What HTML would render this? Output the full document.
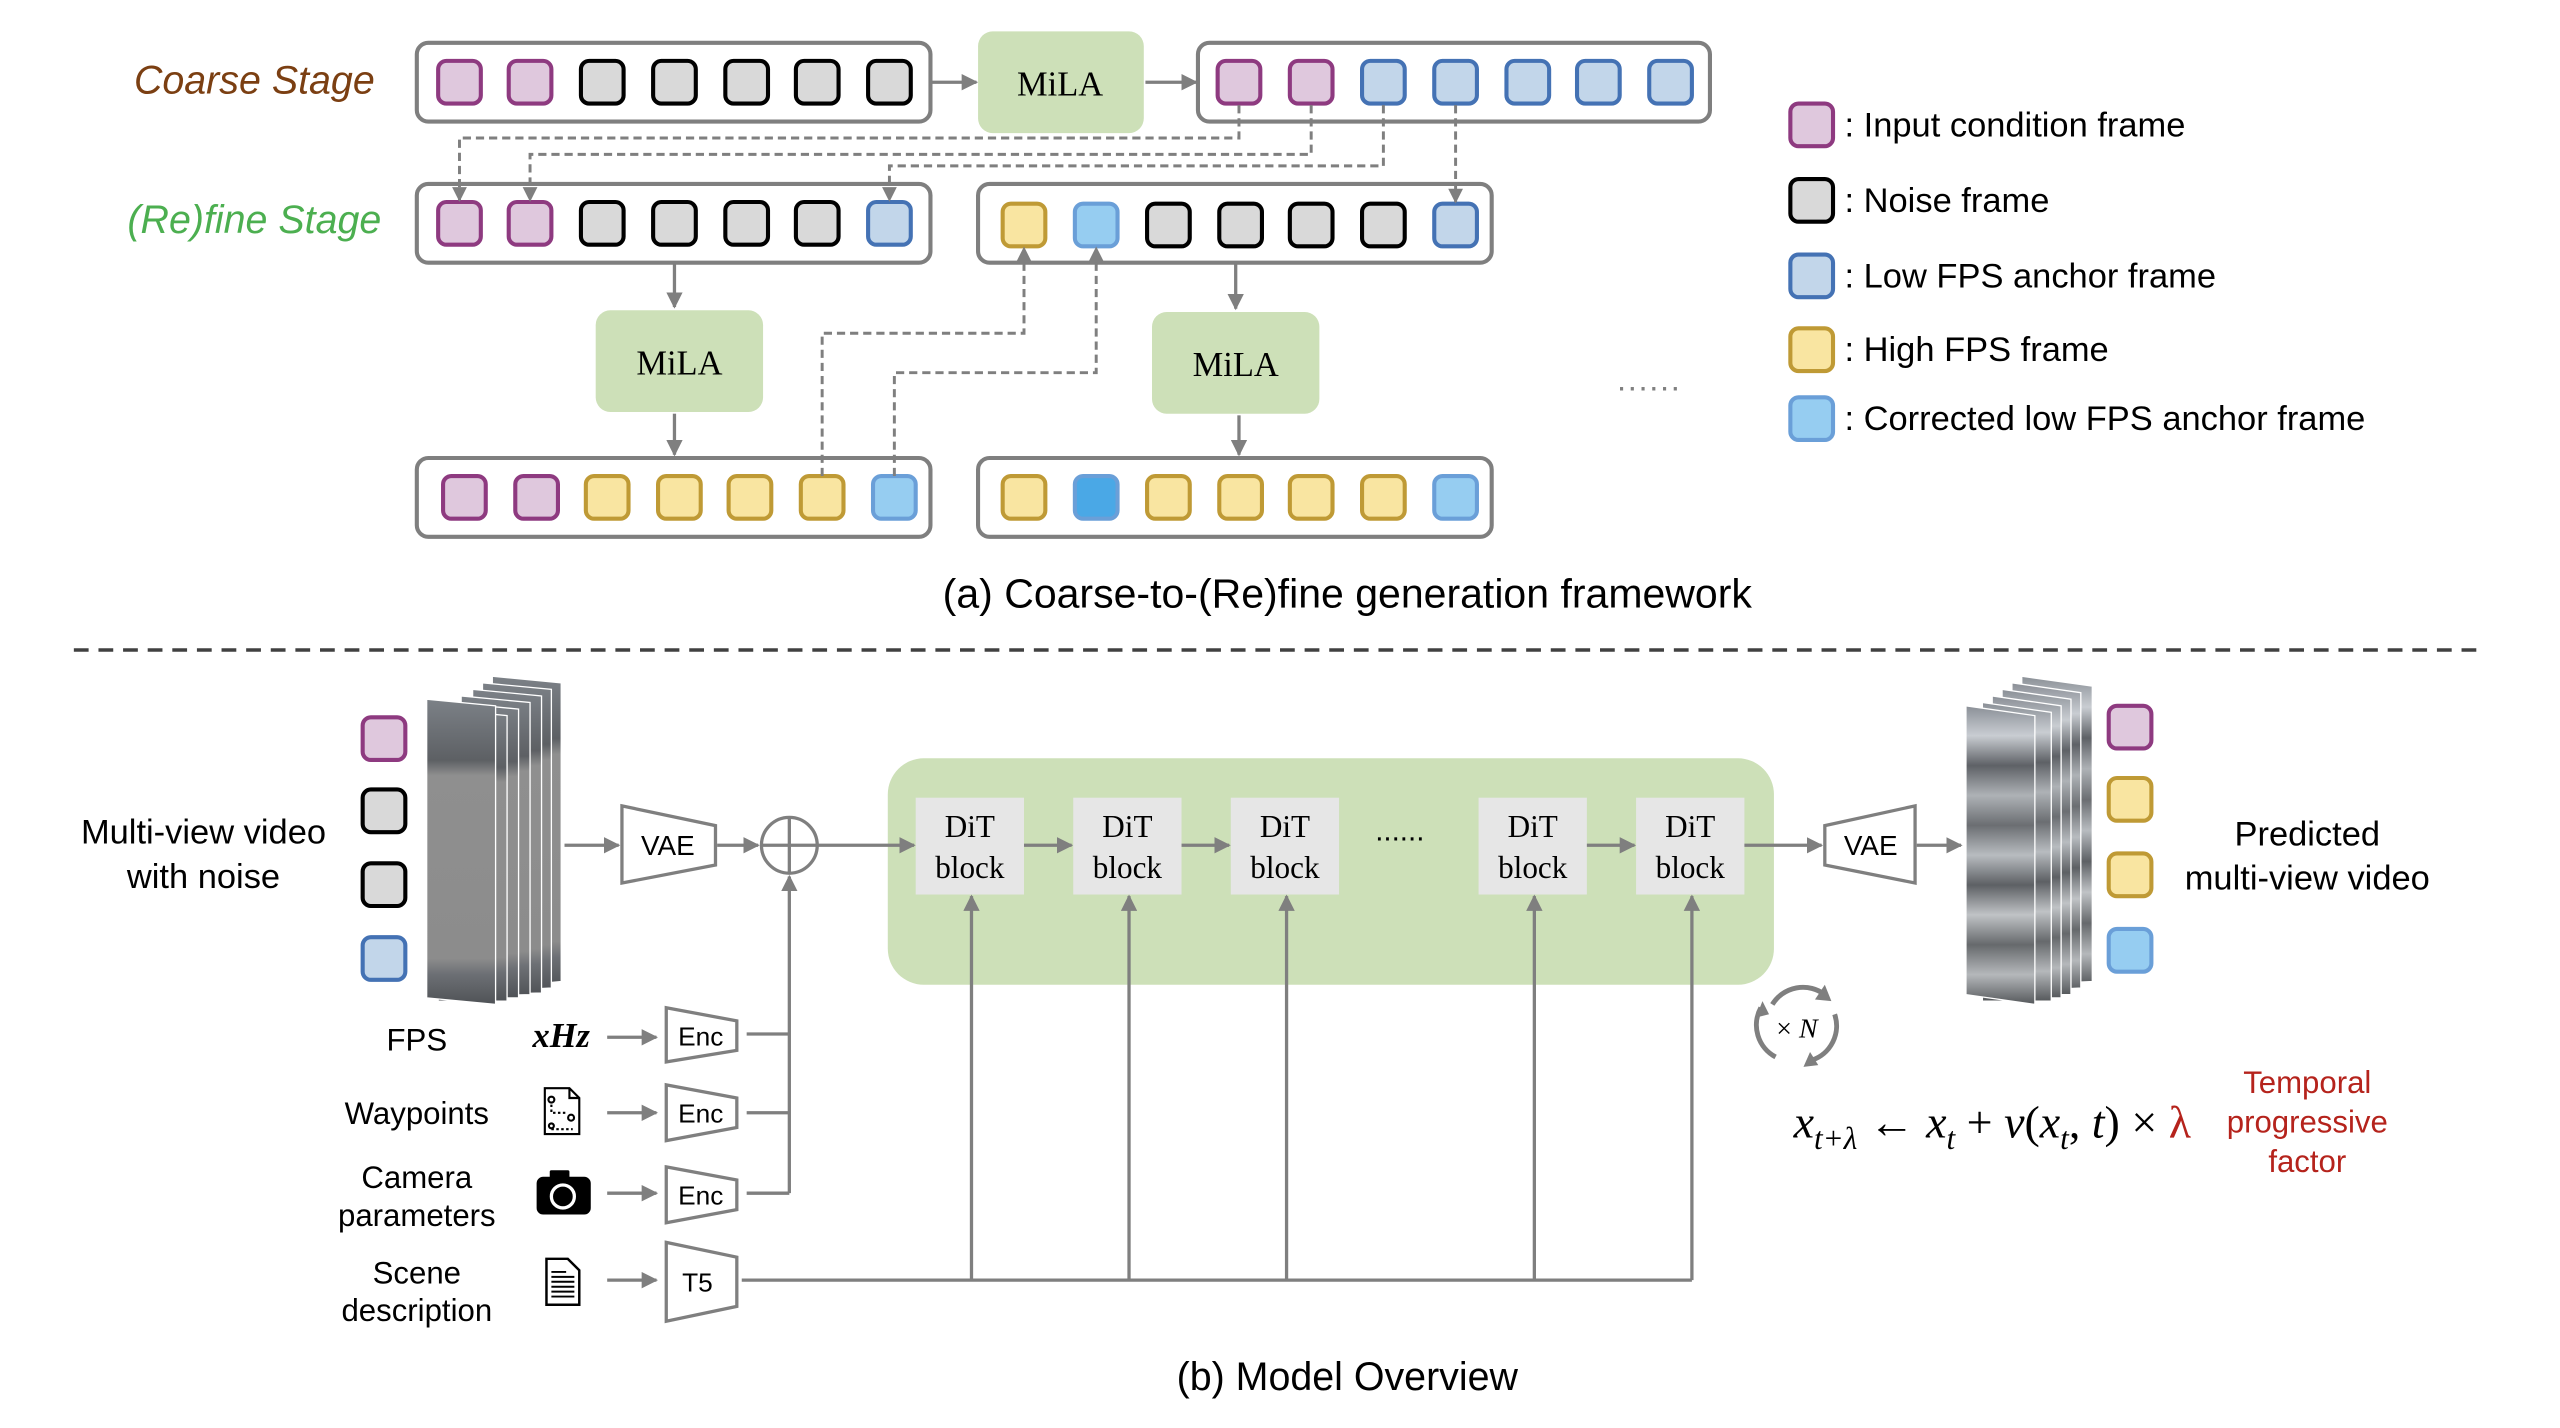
<!DOCTYPE html>
<html><head><meta charset="utf-8"><style>
html,body{margin:0;padding:0;background:#fff;}
svg{display:block;}
text{font-family:"Liberation Sans",sans-serif;}
.s{font-family:"Liberation Serif",serif;}
</style></head><body>
<svg width="2560" height="1428" viewBox="0 0 1560 870" xmlns="http://www.w3.org/2000/svg">
<defs>
<marker id="ah" viewBox="0 0 10 10" refX="9" refY="5" markerWidth="5" markerHeight="5" orient="auto"><path d="M0,0 L10,5 L0,10 z" fill="#7f7f7f"/></marker>
<g id="P"><rect x="-13" y="-13" width="26" height="26" rx="5" fill="#dfc8dd" stroke="#8e3a80" stroke-width="2.5"/></g>
<g id="G"><rect x="-13" y="-13" width="26" height="26" rx="5" fill="#d9d9d9" stroke="#000" stroke-width="2.5"/></g>
<g id="B"><rect x="-13" y="-13" width="26" height="26" rx="5" fill="#c2d6ea" stroke="#4472b4" stroke-width="2.5"/></g>
<g id="Y"><rect x="-13" y="-13" width="26" height="26" rx="5" fill="#f9e5a1" stroke="#bf9a35" stroke-width="2.5"/></g>
<g id="C"><rect x="-13" y="-13" width="26" height="26" rx="5" fill="#96cdf1" stroke="#6a9fd8" stroke-width="2.5"/></g>
<g id="D"><rect x="-13" y="-13" width="26" height="26" rx="5" fill="#4aa8e6" stroke="#6a9fd8" stroke-width="2.5"/></g>
<linearGradient id="vid" x1="0" y1="0" x2="0" y2="1">
<stop offset="0" stop-color="#8a8f96"/><stop offset="0.1" stop-color="#c9cdd2"/><stop offset="0.2" stop-color="#5e6166"/><stop offset="0.3" stop-color="#aeb2b6"/><stop offset="0.4" stop-color="#6b6e72"/><stop offset="0.5" stop-color="#b8bcc0"/><stop offset="0.6" stop-color="#5d6064"/><stop offset="0.7" stop-color="#c0c3c6"/><stop offset="0.8" stop-color="#66696c"/><stop offset="0.9" stop-color="#b5b8bb"/><stop offset="1" stop-color="#55585b"/>
</linearGradient>
<linearGradient id="vidn" x1="0" y1="0" x2="0" y2="1">
<stop offset="0" stop-color="#7c8187"/><stop offset="0.2" stop-color="#5d6064"/><stop offset="0.25" stop-color="#8f8f8f"/><stop offset="0.85" stop-color="#8c8c8c"/><stop offset="0.9" stop-color="#6d7075"/><stop offset="1" stop-color="#4f5256"/>
</linearGradient>
</defs>

<text x="155" y="57" font-size="24" font-style="italic" fill="#7b3f12" text-anchor="middle">Coarse Stage</text>
<text x="155" y="142" font-size="24" font-style="italic" fill="#4caf50" text-anchor="middle">(Re)fine Stage</text>

<g fill="#fff" stroke="#7f7f7f" stroke-width="2.5">
<rect x="254" y="26" width="313" height="48" rx="7"/>
<rect x="730" y="26" width="312" height="48" rx="7"/>
<rect x="254" y="112" width="313" height="48" rx="7"/>
<rect x="596" y="112" width="313" height="48" rx="7"/>
<rect x="254" y="279" width="313" height="48" rx="7"/>
<rect x="596" y="279" width="313" height="48" rx="7"/>
</g>
<g fill="#cde0b8">
<rect x="596" y="19" width="101" height="62" rx="9"/>
<rect x="363" y="189" width="102" height="62" rx="9"/>
<rect x="702" y="190" width="102" height="62" rx="9"/>
</g>
<g font-size="21" text-anchor="middle" fill="#000">
<text x="646" y="58" class="s">MiLA</text>
<text x="414" y="228" class="s">MiLA</text>
<text x="753" y="229" class="s">MiLA</text>
</g>

<use href="#P" x="280" y="50"/><use href="#P" x="323" y="50"/><use href="#G" x="367" y="50"/><use href="#G" x="411" y="50"/><use href="#G" x="455" y="50"/><use href="#G" x="498" y="50"/><use href="#G" x="542" y="50"/>
<use href="#P" x="755" y="50"/><use href="#P" x="799" y="50"/><use href="#B" x="843" y="50"/><use href="#B" x="887" y="50"/><use href="#B" x="931" y="50"/><use href="#B" x="974" y="50"/><use href="#B" x="1018" y="50"/>
<use href="#P" x="280" y="136"/><use href="#P" x="323" y="136"/><use href="#G" x="367" y="136"/><use href="#G" x="411" y="136"/><use href="#G" x="455" y="136"/><use href="#G" x="498" y="136"/><use href="#B" x="542" y="136"/>
<use href="#Y" x="624" y="137"/><use href="#C" x="668" y="137"/><use href="#G" x="712" y="137"/><use href="#G" x="756" y="137"/><use href="#G" x="799" y="137"/><use href="#G" x="843" y="137"/><use href="#B" x="887" y="137"/>
<use href="#P" x="283" y="303"/><use href="#P" x="327" y="303"/><use href="#Y" x="370" y="303"/><use href="#Y" x="414" y="303"/><use href="#Y" x="457" y="303"/><use href="#Y" x="501" y="303"/><use href="#C" x="545" y="303"/>
<use href="#Y" x="624" y="303"/><use href="#D" x="668" y="303"/><use href="#Y" x="712" y="303"/><use href="#Y" x="756" y="303"/><use href="#Y" x="799" y="303"/><use href="#Y" x="843" y="303"/><use href="#C" x="887" y="303"/>

<g stroke="#7f7f7f" stroke-width="2" fill="none" marker-end="url(#ah)">
<line x1="568" y1="50" x2="595" y2="50"/>
<line x1="698" y1="50" x2="729" y2="50"/>
<line x1="411" y1="161" x2="411" y2="187"/>
<line x1="411" y1="252" x2="411" y2="277"/>
<line x1="753" y1="161" x2="753" y2="188"/>
<line x1="755" y1="253" x2="755" y2="277"/>
</g>
<g stroke="#7f7f7f" stroke-width="1.8" fill="none" stroke-dasharray="5,3" marker-end="url(#ah)">
<path d="M755,64 V84 H280 V122"/>
<path d="M799,64 V94 H323 V122"/>
<path d="M843,64 V101 H542 V122"/>
<path d="M887,64 V123"/>
<path d="M501,290 V203 H624 V151"/>
<path d="M545,290 V227 H668 V151"/>
</g>
<text x="1005" y="238" font-size="20" fill="#7f7f7f" text-anchor="middle" letter-spacing="1">......</text>

<use href="#P" x="1104" y="76"/><use href="#G" x="1104" y="122"/><use href="#B" x="1104" y="168"/><use href="#Y" x="1104" y="213"/><use href="#C" x="1104" y="255"/>
<g font-size="21" fill="#000">
<text x="1124" y="83">: Input condition frame</text>
<text x="1124" y="129">: Noise frame</text>
<text x="1124" y="175">: Low FPS anchor frame</text>
<text x="1124" y="220">: High FPS frame</text>
<text x="1124" y="262">: Corrected low FPS anchor frame</text>
</g>
<text x="821" y="370" font-size="25" text-anchor="middle">(a) Coarse-to-(Re)fine generation framework</text>

<line x1="45" y1="396" x2="1515" y2="396" stroke="#404040" stroke-width="2.2" stroke-dasharray="9,6"/>

<text x="124" y="514" font-size="21" text-anchor="middle">Multi-view video</text>
<text x="124" y="541" font-size="21" text-anchor="middle">with noise</text>
<use href="#P" x="234" y="450"/><use href="#G" x="234" y="494"/><use href="#G" x="234" y="539"/><use href="#B" x="234" y="584"/>
<g stroke="#fff" stroke-width="0.8">
<polygon points="300,412 342,416 342,598 300,602" fill="url(#vidn)"/>
<polygon points="294,416 336,420 336,602 294,604" fill="url(#vidn)"/>
<polygon points="288,420 330,424 330,605 288,606" fill="url(#vidn)"/>
<polygon points="281,424 323,428 323,606 281,607" fill="url(#vidn)"/>
<polygon points="274,428 316,432 316,608 274,608" fill="url(#vidn)"/>
<polygon points="267,432 309,436 309,610 267,610" fill="url(#vidn)"/>
<polygon points="260,426 302,430 302,612 260,608" fill="url(#vidn)"/>
</g>
<g fill="#fff" stroke="#7f7f7f" stroke-width="2">
<polygon points="379,491 436,503 436,527 379,538"/>
<polygon points="1112,503 1167,491 1167,538 1112,527"/>
<polygon points="406,614 449,622 449,640 406,647"/>
<polygon points="406,661 449,669 449,687 406,695"/>
<polygon points="406,711 449,719 449,737 406,745"/>
<polygon points="406,757 449,766 449,796 406,805"/>
</g>
<text x="407" y="521" font-size="17" text-anchor="middle">VAE</text>
<text x="1140" y="521" font-size="17" text-anchor="middle">VAE</text>
<text x="427" y="637" font-size="16" text-anchor="middle">Enc</text>
<text x="427" y="684" font-size="16" text-anchor="middle">Enc</text>
<text x="427" y="734" font-size="16" text-anchor="middle">Enc</text>
<text x="425" y="787" font-size="16" text-anchor="middle">T5</text>

<circle cx="481" cy="515" r="17" fill="#fff" stroke="#7f7f7f" stroke-width="2"/>
<line x1="464" y1="515" x2="498" y2="515" stroke="#7f7f7f" stroke-width="2"/>
<line x1="481" y1="498" x2="481" y2="532" stroke="#7f7f7f" stroke-width="2"/>

<rect x="541" y="462" width="540" height="138" rx="22" fill="#cde0b8"/>
<g fill="#e6e6e6">
<rect x="558" y="486" width="66" height="59"/><rect x="654" y="486" width="66" height="59"/><rect x="750" y="486" width="66" height="59"/><rect x="901" y="486" width="66" height="59"/><rect x="997" y="486" width="66" height="59"/>
</g>
<g font-size="19" text-anchor="middle">
<text class="s" x="591" y="510">DiT</text><text class="s" x="591" y="535">block</text>
<text class="s" x="687" y="510">DiT</text><text class="s" x="687" y="535">block</text>
<text class="s" x="783" y="510">DiT</text><text class="s" x="783" y="535">block</text>
<text class="s" x="934" y="510">DiT</text><text class="s" x="934" y="535">block</text>
<text class="s" x="1030" y="510">DiT</text><text class="s" x="1030" y="535">block</text>
</g>
<text x="853" y="512" font-size="18" text-anchor="middle">......</text>

<g stroke="#7f7f7f" stroke-width="2" fill="none" marker-end="url(#ah)">
<line x1="344" y1="515" x2="377" y2="515"/>
<line x1="437" y1="515" x2="462" y2="515"/>
<line x1="498" y1="515" x2="557" y2="515"/>
<line x1="624" y1="515" x2="653" y2="515"/>
<line x1="720" y1="515" x2="749" y2="515"/>
<line x1="967" y1="515" x2="996" y2="515"/>
<line x1="1063" y1="515" x2="1110" y2="515"/>
<line x1="1168" y1="515" x2="1195" y2="515"/>
<line x1="481" y1="727" x2="481" y2="534"/>
<line x1="592" y1="780" x2="592" y2="546"/>
<line x1="688" y1="780" x2="688" y2="546"/>
<line x1="784" y1="780" x2="784" y2="546"/>
<line x1="935" y1="780" x2="935" y2="546"/>
<line x1="1031" y1="780" x2="1031" y2="546"/>
<line x1="370" y1="632" x2="400" y2="632"/>
<line x1="370" y1="678" x2="400" y2="678"/>
<line x1="370" y1="727" x2="400" y2="727"/>
<line x1="370" y1="780" x2="400" y2="780"/>
</g>
<g stroke="#7f7f7f" stroke-width="2" fill="none">
<path d="M455,630 H481 M455,678 H481 M455,727 H481"/>
<line x1="452" y1="780" x2="1031" y2="780"/>
</g>

<g font-size="19" text-anchor="middle">
<text x="254" y="640">FPS</text>
<text x="254" y="685">Waypoints</text>
<text x="254" y="724">Camera</text>
<text x="254" y="747">parameters</text>
<text x="254" y="782">Scene</text>
<text x="254" y="805">description</text>
</g>
<text x="342" y="638" font-size="21" font-style="italic" font-weight="bold" class="s" text-anchor="middle">xHz</text>
<g stroke="#000" stroke-width="1.3" fill="none">
<path d="M332,663 H347 L353,669 V691 H332 Z"/><path d="M347,663 V669 H353"/>
<circle cx="336" cy="670" r="1.8"/><circle cx="348" cy="681" r="1.8"/><circle cx="336" cy="686" r="1.5"/>
<path d="M336,673 V678 H346 M336,688 H349" stroke-dasharray="1.5,1.5"/>
</g>
<rect x="327" y="717" width="33" height="23" rx="4" fill="#000"/>
<rect x="335" y="713" width="12" height="6" rx="1" fill="#000"/>
<circle cx="343" cy="729" r="7" fill="#000" stroke="#fff" stroke-width="2"/>
<g stroke="#000" stroke-width="1.5" fill="#fff">
<path d="M333,767 H346 L353,774 V795 H333 Z"/>
</g>
<g stroke="#000" stroke-width="1.2"><path d="M336,778 H350 M336,781 H350 M336,784 H350 M336,787 H350 M336,790 H350 M336,775 H345"/></g>

<g stroke="#fff" stroke-width="0.8">
<polygon points="1232,412 1275,418 1275,598 1232,600" fill="url(#vid)"/>
<polygon points="1226,416 1268,422 1268,602 1226,604" fill="url(#vid)"/>
<polygon points="1220,420 1262,426 1262,606 1220,606" fill="url(#vid)"/>
<polygon points="1214,424 1256,430 1256,608 1214,608" fill="url(#vid)"/>
<polygon points="1208,428 1250,434 1250,610 1208,610" fill="url(#vid)"/>
<polygon points="1198,430 1240,436 1240,612 1198,606" fill="url(#vid)"/>
</g>
<use href="#P" x="1298" y="443"/><use href="#Y" x="1298" y="487"/><use href="#Y" x="1298" y="533"/><use href="#C" x="1298" y="579"/>
<text x="1406" y="515" font-size="21" text-anchor="middle">Predicted</text>
<text x="1406" y="542" font-size="21" text-anchor="middle">multi-view video</text>

<g stroke="#7f7f7f" stroke-width="3" fill="none">
<path d="M1080,612 A22,22 0 0 1 1112,606"/>
<path d="M1118,618 A22,22 0 0 1 1104,646"/>
<path d="M1082,644 A22,22 0 0 1 1073,614"/>
</g>
<g fill="#7f7f7f">
<path d="M1112,600 L1116,610 L1106,609 Z"/>
<path d="M1099,650 L1103,641 L1108,649 Z"/>
<path d="M1070,620 L1074,610 L1078,618 Z"/>
</g>
<text x="1095" y="632" font-size="17" text-anchor="middle" class="s">× <tspan font-style="italic">N</tspan></text>

<text x="1093" y="693" font-size="28" class="s" font-style="italic">x<tspan font-size="19" dy="7">t+λ</tspan><tspan dy="-7" font-style="normal"> ← </tspan>x<tspan font-size="19" dy="7">t</tspan><tspan dy="-7" font-style="normal"> + </tspan>v<tspan font-style="normal">(</tspan>x<tspan font-size="19" dy="7">t</tspan><tspan dy="-7" font-style="normal">, </tspan>t<tspan font-style="normal">) × </tspan><tspan fill="#b5231c" font-style="normal">λ</tspan></text>
<g font-size="19" fill="#b5231c" text-anchor="middle">
<text x="1406" y="666">Temporal</text>
<text x="1406" y="690">progressive</text>
<text x="1406" y="714">factor</text>
</g>

<text x="821" y="847" font-size="24" text-anchor="middle">(b) Model Overview</text>
</svg>
</body></html>
